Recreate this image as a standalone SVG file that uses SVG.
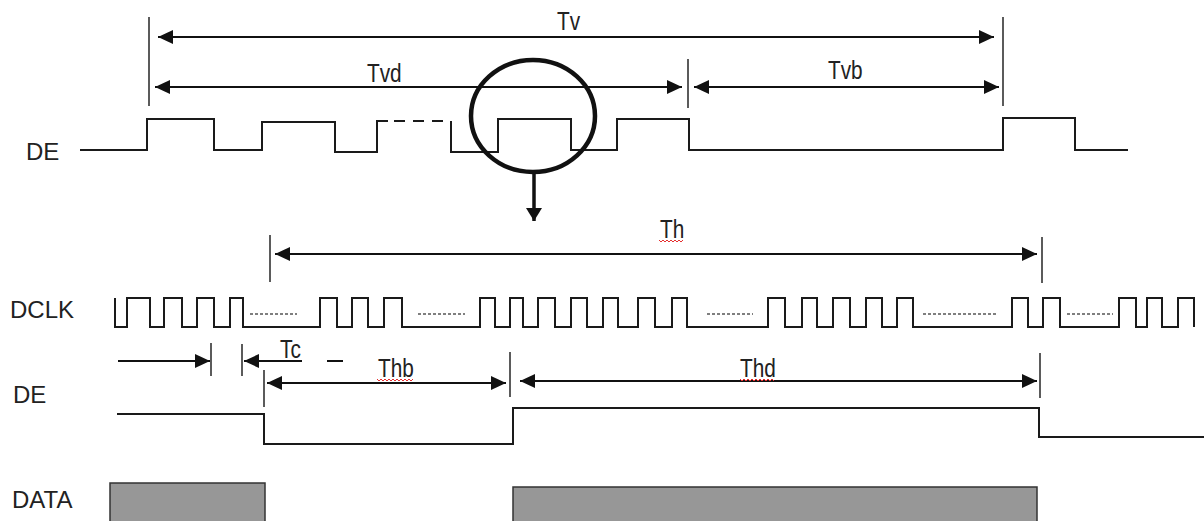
<svg xmlns="http://www.w3.org/2000/svg" width="1204" height="521" viewBox="0 0 1204 521">
<style>
.lbl{font-family:"Liberation Sans",Arial,sans-serif;font-size:24px;fill:#222}
.tl{font-family:"Liberation Sans",Arial,sans-serif;font-size:26px;fill:#222}
.wave{fill:none;stroke:#1a1a1a;stroke-width:2}
.dots{fill:none;stroke:#555;stroke-width:1.5;stroke-dasharray:3 2}
.dim{fill:none;stroke:#111;stroke-width:2;marker-start:url(#ah);marker-end:url(#ah)}
.one{fill:none;stroke:#111;stroke-width:2}
.ext{fill:none;stroke:#333;stroke-width:1.6}
.sq{fill:none;stroke:#e53030;stroke-width:1}
.data{fill:#979797;stroke:#333;stroke-width:1.5}
</style>
<defs>
<marker id="ah" viewBox="0 0 15 14" markerWidth="15" markerHeight="14" refX="15" refY="7" orient="auto-start-reverse" markerUnits="userSpaceOnUse">
<path d="M0,0 L15,7 L0,14 z" fill="#111"/>
</marker>
<marker id="ahd" viewBox="0 0 15 14" markerWidth="15" markerHeight="14" refX="15" refY="7" orient="auto" markerUnits="userSpaceOnUse">
<path d="M0,0 L15,7 L0,14 z" fill="#111"/>
</marker>
<marker id="ahb" viewBox="0 0 13 16" markerWidth="13" markerHeight="16" refX="13" refY="8" orient="auto" markerUnits="userSpaceOnUse">
<path d="M0,0 L13,8 L0,16 z" fill="#111"/>
</marker>
</defs>
<rect width="1204" height="521" fill="#fff"/>

<g id="labels">
<text class="lbl" x="26" y="160">DE</text>
<text class="lbl" x="10" y="318">DCLK</text>
<text class="lbl" x="13" y="403">DE</text>
<text class="lbl" x="12" y="508">DATA</text>
</g>

<g id="de-top">
<path class="wave" d="M80,150 H147 V119 H214 V150 H262 V122 H335 V152 H377 V121 H388"/>
<path class="wave" d="M394,121 H444" stroke-dasharray="11 8"/>
<path class="wave" d="M451,121 V152 H498 V119 H571 V150 H617 V119 H689 V150 H1003 V118 H1075 V150 H1128"/>
</g>

<g id="zoom-circle">
<ellipse cx="533" cy="116" rx="62" ry="56" fill="none" stroke="#111" stroke-width="4.5"/>
<path d="M534,172 V221" stroke="#111" stroke-width="3.5" fill="none" marker-end="url(#ahb)"/>
</g>

<g id="dclk">
<path class="wave" d="M115,298 V327 H127 V298 H150 V327 H164 V298 H182 V327 H197 V298 H214 V327 H230 V298 H243 V327 H320 V298 H337 V327 H352 V298 H368 V327 H384 V298 H402 V327 H480 V298 H495 V327 H510 V298 H523 V327 H538 V298 H555 V327 H571 V298 H587 V327 H603 V298 H618 V327 H638 V298 H655 V327 H672 V298 H687 V327 H768 V298 H785 V327 H802 V298 H817 V327 H833 V298 H850 V327 H866 V298 H882 V327 H897 V298 H913 V327 H1012 V298 H1028 V327 H1043 V298 H1060 V327 H1119 V298 H1136 V327 H1147 V298 H1162 V327 H1178 V298 H1194 V327"/>
<path class="dots" d="M250,314 H297 M418,314 H465 M707,314 H753 M923,314 H997 M1067,314 H1113"/>
</g>

<g id="de-bottom">
<path class="wave" d="M117,414 H264 V444 H513 V408 H1039 V437 H1204"/>
</g>

<g id="data">
<rect class="data" x="110" y="483" width="155" height="45"/>
<rect class="data" x="513" y="487" width="524" height="45"/>
</g>

<g id="connectors">
<path class="ext" d="M149,17 V106 M1003,17 V106 M688,59 V108"/>
<path class="dim" d="M158,37 H994"/>
<path class="dim" d="M155,87 H682"/>
<path class="dim" d="M694,87 H999"/>
<path class="ext" d="M270,235 V282 M1042,237 V283"/>
<path class="dim" d="M275,254 H1037"/>
<path class="ext" d="M211,343 V376 M242,344 V376"/>
<path class="one" d="M118,361 H210" marker-end="url(#ahd)"/>
<path class="one" d="M302,361 H244" marker-end="url(#ahd)"/>
<path class="one" d="M327,361 H343"/>
<path class="ext" d="M264,370 V407 M510,352 V397 M1040,353 V398"/>
<path class="dim" d="M267,383 H506"/>
<path class="dim" d="M520,381 H1037"/>
</g>

<g id="dim-labels">
<text class="tl" transform="translate(557,30) scale(0.8,1)">Tv</text>
<text class="tl" transform="translate(367,82) scale(0.8,1)">Tvd</text>
<text class="tl" transform="translate(828,79) scale(0.8,1)">Tvb</text>
<text class="tl" transform="translate(660,238) scale(0.8,1)">Th</text>
<text class="tl" transform="translate(280,358) scale(0.8,1)">Tc</text>
<text class="tl" transform="translate(378,377) scale(0.8,1)">Thb</text>
<text class="tl" transform="translate(740,377) scale(0.8,1)">Thd</text>
<path class="sq" d="M659,240 l2,2 l2,-2 l2,2 l2,-2 l2,2 l2,-2 l2,2 l2,-2 l2,2 l2,-2 l2,2 l2,-2"/>
<path class="sq" d="M377,379 l2,2 l2,-2 l2,2 l2,-2 l2,2 l2,-2 l2,2 l2,-2 l2,2 l2,-2 l2,2 l2,-2 l2,2 l2,-2 l2,2 l2,-2 l2,2 l2,-2"/>
<path class="sq" d="M740,379 l2,2 l2,-2 l2,2 l2,-2 l2,2 l2,-2 l2,2 l2,-2 l2,2 l2,-2 l2,2 l2,-2 l2,2 l2,-2 l2,2 l2,-2 l2,2"/>
</g>
</svg>
